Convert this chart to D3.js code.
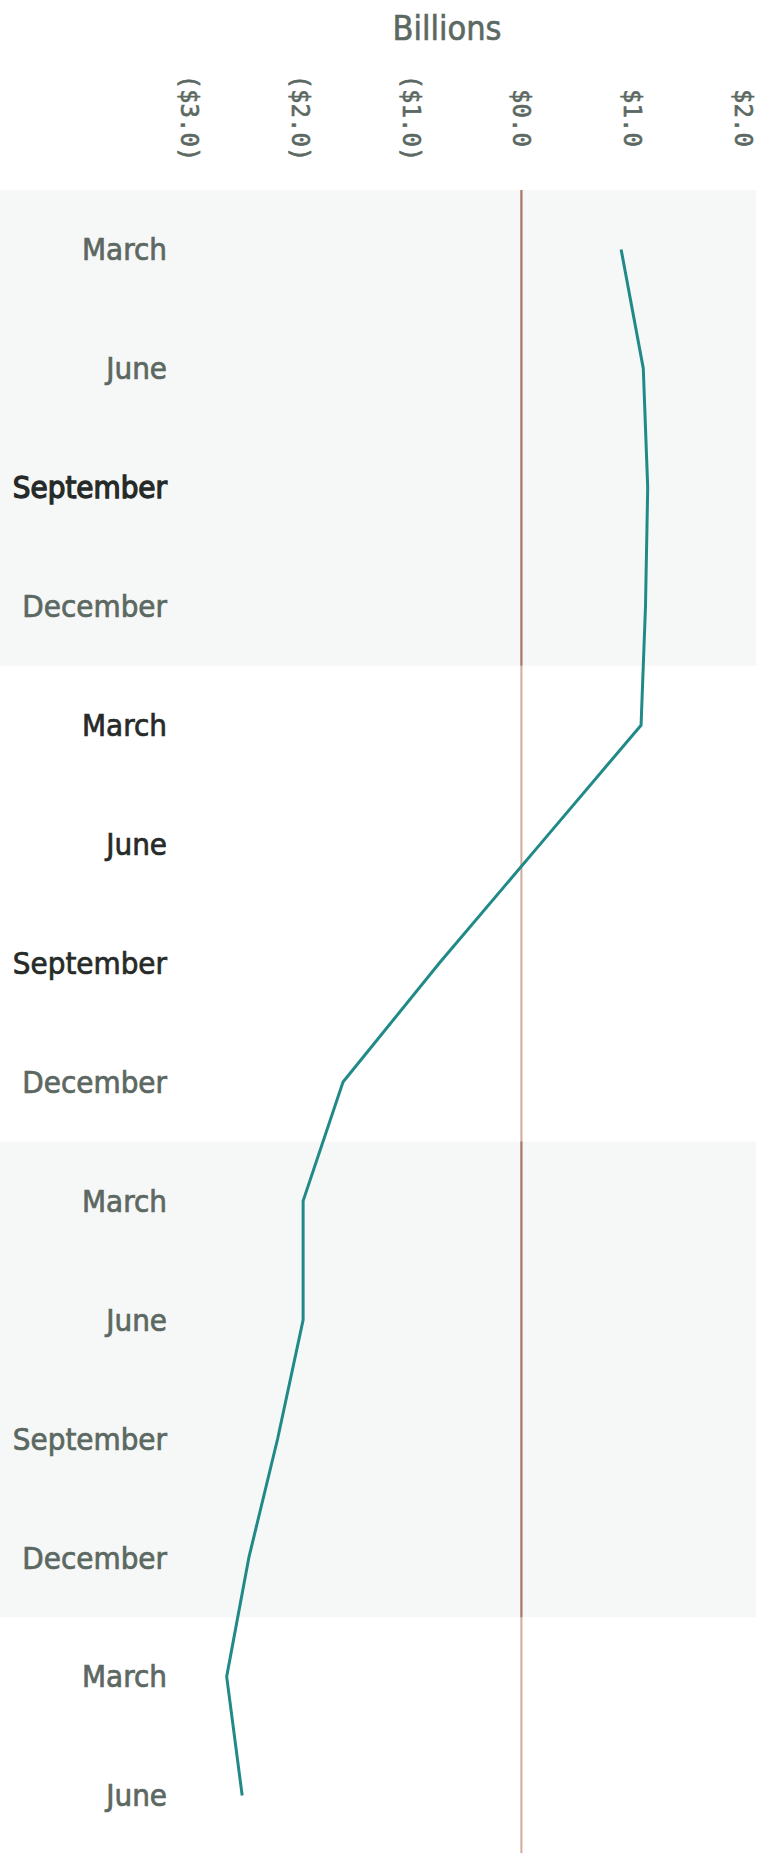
<!DOCTYPE html>
<html>
<head>
<meta charset="utf-8">
<script src="https://cdn.jsdelivr.net/npm/d3@7"></script>
<style>
  body { margin: 0; background: #fff; }
  .rowLabel { font-family: "DejaVu Sans Condensed", "DejaVu Sans", sans-serif; font-stretch: condensed; font-size: 31px; stroke-width: 0.7px; }
  .tickLabel { font-family: "DejaVu Sans Mono", monospace; font-size: 24px; fill: #5c6862; stroke: #5c6862; stroke-width: 0.6px; }
  .title { font-family: "DejaVu Sans Condensed", "DejaVu Sans", sans-serif; font-stretch: condensed; font-size: 34px; fill: #5c6862; stroke: #5c6862; stroke-width: 0.6px; }
</style>
</head>
<body>
<script>
(function(){

//quarter labels, top to bottom
var quarters = ["March", "June", "September", "December",
                "March", "June", "September", "December",
                "March", "June", "September", "December",
                "March", "June"];

//value in billions at each quarter
var values = [0.90, 1.10, 1.14, 1.12,
              1.08, 0.17, -0.74, -1.61,
              -1.97, -1.97, -2.20, -2.46,
              -2.66, -2.52];

//axis ticks
var tickValues = [-3, -2, -1, 0, 1, 2];

//which groups of four quarters get a background band
var shadedYears = [0, 2];

window.onload = drawChart();

function drawChart(){
    var width = 766,
        height = 1853;

    var svg = d3.select("body")
      .append("svg")
      .attr("width", width)
      .attr("height", height);

    var x = d3.scaleLinear()
      .domain([-3, 2])
      .range([189, 743]);

    var y = d3.scaleBand()
      .domain(d3.range(quarters.length))
      .range([190, 1855]);

    var step = y.step();

    //background bands for alternating years
    svg.selectAll(".band")
      .data(shadedYears)
      .enter()
      .append("rect")
      .attr("class", "band")
      .attr("x", 0)
      .attr("width", 756)
      .attr("y", function(d){ return y(d * 4); })
      .attr("height", step * 4)
      .style("fill", "#f6f8f7");

    //title
    svg.append("text")
      .attr("class", "title")
      .attr("x", 447)
      .attr("y", 40)
      .attr("text-anchor", "middle")
      .text("Billions");

    //top axis, labels turned on their side
    var axis = d3.axisTop(x)
      .tickValues(tickValues)
      .tickSize(0)
      .tickFormat(function(v){
        return v < 0 ? "($" + Math.abs(v).toFixed(1) + ")" : "$" + v.toFixed(1);
      });

    var axisG = svg.append("g")
      .attr("transform", "translate(0,118)")
      .call(axis);

    axisG.select(".domain").remove();
    axisG.selectAll("text")
      .attr("class", "tickLabel")
      .attr("x", 0)
      .attr("y", 0)
      .attr("dy", "0.35em")
      .attr("text-anchor", "middle")
      .attr("transform", "rotate(90)");

    //zero line, lighter over white and darker over the bands
    svg.append("line")
      .attr("x1", x(0))
      .attr("x2", x(0))
      .attr("y1", 190)
      .attr("y2", height)
      .style("stroke", "#d4a89b")
      .style("stroke-width", 2);

    svg.selectAll(".zeroBand")
      .data(shadedYears)
      .enter()
      .append("line")
      .attr("class", "zeroBand")
      .attr("x1", x(0))
      .attr("x2", x(0))
      .attr("y1", function(d){ return y(d * 4); })
      .attr("y2", function(d){ return y(d * 4) + step * 4; })
      .style("stroke", "#a87a6b")
      .style("stroke-width", 2);

    //row labels
    var darkRows = [2, 4, 5, 6];
    svg.selectAll(".rowLabel")
      .data(quarters)
      .enter()
      .append("text")
      .attr("class", "rowLabel")
      .attr("x", 167)
      .attr("y", function(d, i){ return y(i) + step / 2; })
      .attr("dy", "0.35em")
      .attr("text-anchor", "end")
      .style("fill", function(d, i){ return darkRows.indexOf(i) >= 0 ? "#262a28" : "#5c6862"; })
      .style("stroke", function(d, i){ return darkRows.indexOf(i) >= 0 ? "#262a28" : "#5c6862"; })
      .style("stroke-width", function(d, i){ return i == 2 ? "1.3px" : null; })
      .text(function(d){ return d; });

    //the series line
    var line = d3.line()
      .x(function(d){ return x(d); })
      .y(function(d, i){ return y(i) + step / 2; });

    svg.append("path")
      .datum(values)
      .attr("d", line)
      .style("fill", "none")
      .style("stroke", "#218a88")
      .style("stroke-width", 3)
      .style("stroke-linejoin", "round");
};

})();
</script>
</body>
</html>
